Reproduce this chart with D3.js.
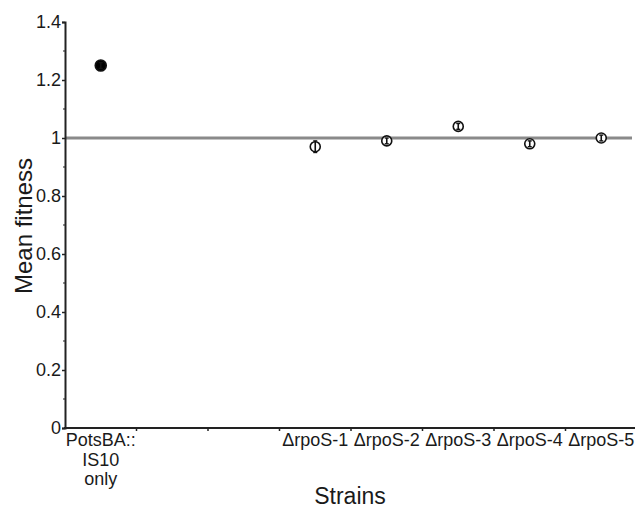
<!DOCTYPE html>
<html>
<head>
<meta charset="utf-8">
<script src="https://cdn.jsdelivr.net/npm/d3@7"></script>
<style>
  body { margin: 0; background: #fff; }
  text { font-family: "Liberation Sans", Arial, Helvetica, sans-serif; fill: #1a1a1a; }
</style>
</head>
<body>
<div id="chart"></div>
<script>
// categories along the x axis (two blank slots between control and mutants)
const categories = ["PotsBA", "blank1", "blank2", "rpoS-1", "rpoS-2", "rpoS-3", "rpoS-4", "rpoS-5"];
const catLabels = [["PotsBA::", "IS10", "only"], [""], [""],
  ["\u0394rpoS-1"], ["\u0394rpoS-2"], ["\u0394rpoS-3"], ["\u0394rpoS-4"], ["\u0394rpoS-5"]];

const strains = ["PotsBA", "rpoS-1", "rpoS-2", "rpoS-3", "rpoS-4", "rpoS-5"];
const fitness = [1.25, 0.97, 0.99, 1.04, 0.98, 1.00];
const errors  = [0.01, 0.02, 0.01, 0.01, 0.01, 0.01];
const filled  = [true, false, false, false, false, false];

const yTicks = [0, 0.2, 0.4, 0.6, 0.8, 1, 1.2, 1.4];
const yTickLabels = ["0", "0.2", "0.4", "0.6", "0.8", "1", "1.2", "1.4"];
const refLine = 1;

const width = 635, height = 510;
const mLeft = 65, mRight = 637, mTop = 22, mBottom = 428;

const svg = d3.select("#chart").append("svg")
  .attr("width", width)
  .attr("height", height);

const x = d3.scaleBand().domain(categories).range([mLeft, mRight]);
const y = d3.scaleLinear().domain([0, 1.4]).range([mBottom, mTop]);

// reference line at fitness = 1
svg.append("line")
  .attr("x1", mLeft).attr("x2", 632)
  .attr("y1", y(refLine)).attr("y2", y(refLine))
  .attr("stroke", "#8a8a8a")
  .attr("stroke-width", 3);

// y axis
const yAxis = svg.append("g")
  .attr("transform", `translate(${mLeft},0)`)
  .call(d3.axisLeft(y).tickValues(yTicks).tickFormat((d, i) => yTickLabels[i]).tickSize(3).tickPadding(1));
yAxis.select(".domain").attr("stroke", "#222").attr("stroke-width", 2);
yAxis.selectAll(".tick line").attr("stroke", "#222").attr("stroke-width", 1.5);
yAxis.selectAll(".tick text").style("font-size", "18px").attr("fill", "#1a1a1a");

// minor y ticks
svg.append("g").selectAll("line")
  .data(d3.range(0.1, 1.4, 0.2))
  .join("line")
  .attr("x1", mLeft - 2).attr("x2", mLeft)
  .attr("y1", d => y(d)).attr("y2", d => y(d))
  .attr("stroke", "#222").attr("stroke-width", 1.2);

// x axis
const bandEdges = categories.map(c => x(c)).slice(1);
svg.append("line")
  .attr("x1", mLeft - 1).attr("x2", width)
  .attr("y1", mBottom).attr("y2", mBottom)
  .attr("stroke", "#222").attr("stroke-width", 2);
svg.append("g").selectAll("line")
  .data(bandEdges)
  .join("line")
  .attr("x1", d => d).attr("x2", d => d)
  .attr("y1", mBottom).attr("y2", mBottom + 3)
  .attr("stroke", "#222").attr("stroke-width", 1.5);

const labelG = svg.append("g");
categories.forEach((c, i) => {
  const t = labelG.append("text")
    .attr("x", x(c) + x.bandwidth() / 2)
    .attr("y", mBottom + 18)
    .attr("text-anchor", "middle")
    .style("font-size", "18px");
  catLabels[i].forEach((line, j) => {
    t.append("tspan")
      .attr("x", x(c) + x.bandwidth() / 2)
      .attr("dy", j === 0 ? 0 : 19.5)
      .text(line);
  });
});

// axis titles
svg.append("text")
  .attr("x", 350).attr("y", 504)
  .attr("text-anchor", "middle")
  .style("font-size", "23px")
  .text("Strains");
svg.append("text")
  .attr("transform", "translate(32,226) rotate(-90)")
  .attr("text-anchor", "middle")
  .style("font-size", "24px")
  .text("Mean fitness");

// points with error bars
const pts = svg.append("g").selectAll("g")
  .data(strains)
  .join("g")
  .attr("transform", (d, i) => `translate(${x(d) + x.bandwidth() / 2},0)`);

pts.append("circle")
  .attr("cy", (d, i) => y(fitness[i]))
  .attr("r", (d, i) => filled[i] ? 5.5 : 5)
  .attr("fill", (d, i) => filled[i] ? "#000" : "#fff")
  .attr("stroke", "#111")
  .attr("stroke-width", 1.6);

pts.append("line")
  .attr("y1", (d, i) => y(fitness[i] + errors[i]))
  .attr("y2", (d, i) => y(fitness[i] - errors[i]))
  .attr("stroke", "#111").attr("stroke-width", 1.6);

pts.append("line")
  .attr("x1", -2).attr("x2", 2)
  .attr("y1", (d, i) => y(fitness[i] + errors[i]))
  .attr("y2", (d, i) => y(fitness[i] + errors[i]))
  .attr("stroke", "#111").attr("stroke-width", 1.4);
pts.append("line")
  .attr("x1", -2).attr("x2", 2)
  .attr("y1", (d, i) => y(fitness[i] - errors[i]))
  .attr("y2", (d, i) => y(fitness[i] - errors[i]))
  .attr("stroke", "#111").attr("stroke-width", 1.4);
</script>
</body>
</html>
